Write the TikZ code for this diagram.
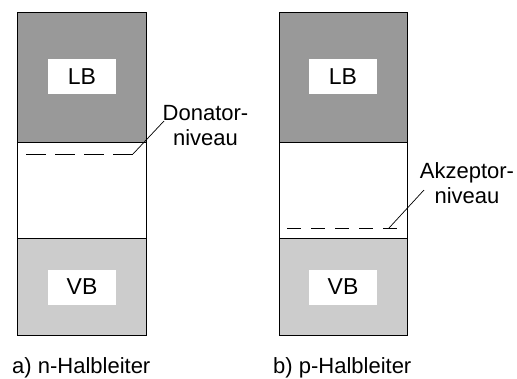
\documentclass[tikz,border=0pt]{standalone}
\usepackage{fontspec}
\setmainfont{Liberation Sans}
\begin{document}
\begin{tikzpicture}[x=1pt,y=-1pt,
  band/.style={draw=black,line width=0.9pt},
  lbfill/.style={fill={rgb,255:red,153;green,153;blue,153}},
  vbfill/.style={fill={rgb,255:red,204;green,204;blue,204}},
  label/.style={fill=white,minimum width=68pt,minimum height=35pt,inner sep=0pt,font=\fontsize{23}{25}\selectfont},
  txt/.style={inner sep=0pt,font=\fontsize{22}{25}\selectfont},
  lead/.style={draw=black,line width=0.7pt},
  level/.style={draw=black,line width=0.8pt}]
\useasboundingbox (0,0) rectangle (517,378);
% left column
\path[lbfill] (17,12.5) rectangle (146,142);
\path[vbfill] (17,238) rectangle (146,335);
\draw[band] (17,12.5) rectangle (146,335);
\draw[band] (17,142) -- (146,142);
\draw[band] (17,238) -- (146,238);
\node[label] (lbA) at (82,76.5) {LB};
\node[label] (vbA) at (82,287) {VB};
\coordinate (dA1) at (26,154);
\coordinate (dA2) at (133,154);
\draw[level,dash pattern=on 20pt off 9pt] (dA1) -- (dA2);
\node[txt,anchor=base,align=center] (donA) at (205.5,145) {Donator-\\niveau};
\coordinate (tA) at (164,121);
\draw[lead] (dA2) -- (tA);
\node[txt,anchor=base west] (capA) at (12,373) {a) n-Halbleiter};
% right column
\path[lbfill] (279,12.5) rectangle (407,142);
\path[vbfill] (279,238) rectangle (407,335);
\draw[band] (279,12.5) rectangle (407,335);
\draw[band] (279,142) -- (407,142);
\draw[band] (279,238) -- (407,238);
\node[label] (lbB) at (343,76.5) {LB};
\node[label] (vbB) at (343,287) {VB};
\coordinate (dB1) at (287,228);
\coordinate (dB2) at (400,228);
\draw[level,dash pattern=on 14pt off 10pt] (dB1) -- (dB2);
\node[txt,anchor=base,align=center] (akzB) at (467,203) {Akzeptor-\\niveau};
\coordinate (tB) at (424,190);
\draw[lead] (389,228) -- (tB);
\node[txt,anchor=base west] (capB) at (273,373) {b) p-Halbleiter};
\end{tikzpicture}
\end{document}
